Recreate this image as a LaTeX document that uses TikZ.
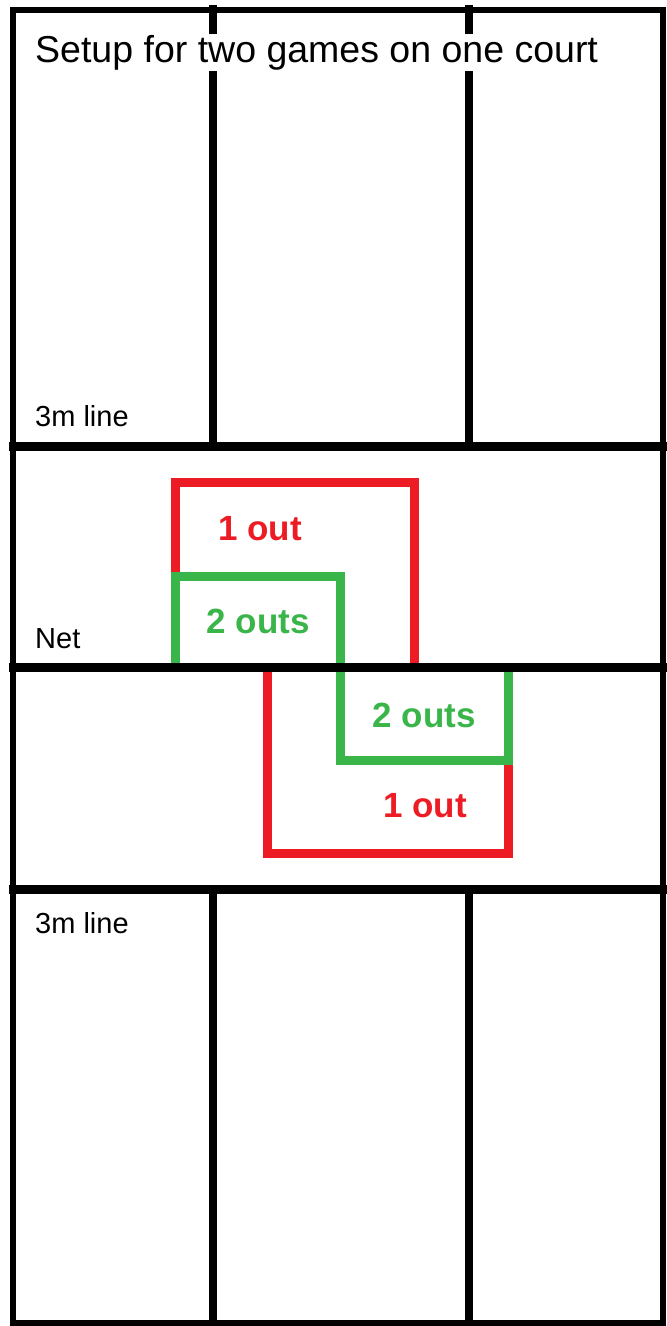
\documentclass[tikz,border=0pt]{standalone}
\usepackage{fontspec}
\setmainfont{Liberation Sans}
\definecolor{outred}{HTML}{ED1C24}
\definecolor{outgreen}{HTML}{3AB54A}
\tikzset{
    courtline/.style={
        line width=9pt, draw=black
    },
    frameline/.style={
        line width=6pt, draw=black
    },
    oneout/.style={
        line width=9pt, draw=outred, line join=miter
    },
    twoouts/.style={
        line width=9pt, draw=outgreen, line join=miter
    },
    titletext/.style={
        font=\fontsize{37.5}{45}\selectfont, fill=white, inner sep=1pt
    },
    linelabel/.style={
        font=\fontsize{29}{35}\selectfont, inner sep=0pt
    },
    zonelabel/.style={
        font=\bfseries\fontsize{35}{42}\selectfont, inner sep=0pt
    }
}

\begin{document}
\begin{tikzpicture}[x=1pt, y=-1pt]

    \useasboundingbox (0,0) rectangle (667,1326);

    % zones
    \draw[oneout]  (175.5,576) -- (175.5,482) -- (414.5,482) -- (414.5,667.5);
    \draw[oneout]  (267,667.5) -- (267,853.5) -- (508,853.5) -- (508,760.5);
    \draw[twoouts] (175.5,667.5) -- (175.5,576) -- (340.5,576) -- (340.5,760.5)
                   -- (508,760.5) -- (508,667.5);

    % court
    \draw[frameline] (13,10) rectangle (662.5,1323);
    \draw[courtline] (9,446)   -- (667,446);
    \draw[courtline] (9,667.5) -- (667,667.5);
    \draw[courtline] (9,889)   -- (667,889);
    \foreach \xline in {213,469} {
        \draw[courtline, line width=8pt] (\xline,5)   -- (\xline,446);
        \draw[courtline, line width=8pt] (\xline,889) -- (\xline,1326);
    }

    % texts
    \node[titletext, anchor=base west]  (title)    at (34,62)  {Setup for two games on one court};
    \node[linelabel, anchor=base west]  (topline)  at (35,426) {3m line};
    \node[linelabel, anchor=base west]  (net)      at (35,648) {Net};
    \node[linelabel, anchor=base west]  (botline)  at (35,933) {3m line};

    \node[zonelabel, text=outred, anchor=base]   (redtop)   at (260,540) {1 out};
    \node[zonelabel, text=outgreen, anchor=base] (greentop) at (258,633) {2 outs};
    \node[zonelabel, text=outgreen, anchor=base] (greenbot) at (424,727) {2 outs};
    \node[zonelabel, text=outred, anchor=base]   (redbot)   at (425,817) {1 out};

\end{tikzpicture}
\end{document}
